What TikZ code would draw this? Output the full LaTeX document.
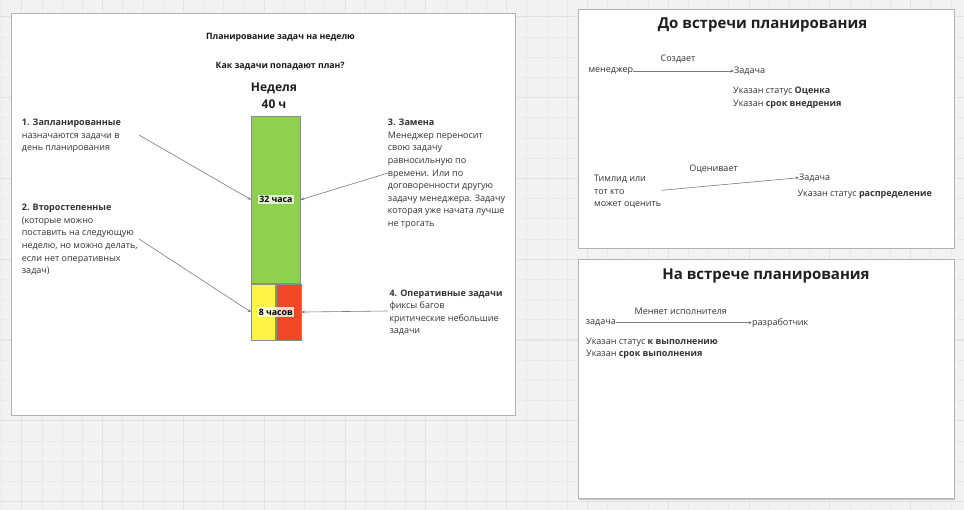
\documentclass[tikz,border=0pt]{standalone}
\usepackage{fontspec}
\setmainfont{Open Sans}
\usepackage{xcolor}
\usetikzlibrary{arrows.meta}

\definecolor{ink}{HTML}{333333}
\definecolor{wire}{HTML}{7A7A7A}
\definecolor{board}{HTML}{F2F2F2}
\definecolor{gridminor}{HTML}{E9E9E9}
\definecolor{gridmajor}{HTML}{E2E2E2}
\definecolor{barGreen}{HTML}{8FD14F}
\definecolor{barYellow}{HTML}{FEF445}
\definecolor{barRed}{HTML}{F24726}

\tikzset{
    panel/.style={draw=black!30, fill=white, line width=0.6pt},
    shade/.style={fill=black!22},
    txt/.style={font=\fontsize{9}{12.6}\selectfont, text=ink, inner sep=0pt, align=left, anchor=north west},
    head/.style={font=\bfseries\fontsize{8.75}{12.6}\selectfont, text=black!90, inner sep=0pt},
    big/.style={font=\bfseries\fontsize{15}{18}\selectfont, text=black!88, inner sep=0pt},
    seg/.style={draw=black!45, line width=0.7pt, inner sep=0pt, anchor=north west},
    tag/.style={font=\bfseries\fontsize{8.75}{12.6}\selectfont, fill=white, fill opacity=0.75, text opacity=1, inner sep=1.5pt},
    link/.style={draw=wire, line width=0.6pt, -{Stealth[length=3.5pt,width=3pt]}}
}

\begin{document}
\begin{tikzpicture}[x=1pt,y=-1pt]
            \useasboundingbox (0,0) rectangle (964,510);
            \fill[board] (0,0) rectangle (964,510);
            \foreach \gx in {1.5,21.7,...,964} \draw[gridminor, line width=0.5pt] (\gx,0) -- (\gx,510);
            \foreach \gy in {16.7,36.9,...,510} \draw[gridminor, line width=0.5pt] (0,\gy) -- (964,\gy);
            \foreach \gx in {21.7,102.5,...,964} \draw[gridmajor, line width=0.8pt] (\gx,0) -- (\gx,510);
            \foreach \gy in {16.7,97.5,...,510} \draw[gridmajor, line width=0.8pt] (0,\gy) -- (964,\gy);

            \fill[shade] (12.7,14.3) rectangle (516,416.2);
            \draw[panel] (11.7,13.3) rectangle (515,415);

            \node[head] (T1) at (280.5,37.3) {Планирование задач на неделю};
            \node[head] (T2) at (280.2,66) {Как задачи попадают план?};
            \node[font=\bfseries\fontsize{12}{16.7}\selectfont, text=black!88, inner sep=0pt, align=center] (W) at (274,95.6) {Неделя\\40 ч};

            \node[seg, fill=barGreen, minimum width=49, minimum height=167.3] (G) at (251,115.7) {};
            \node[seg, fill=barYellow, minimum width=24, minimum height=56] (Y) at (G.south west) {};
            \node[seg, fill=barRed, minimum width=25, minimum height=56] (R) at (Y.north east) {};
            \node[tag] (L32) at (G.center) {32 часа};
            \node[tag] (L8) at (Y.east) {8 часов};

            \node[txt] (B1) at (21.7,119) {\textbf{1. Запланированные}\\назначаются задачи в\\день планирования};
            \node[txt] (B2) at (21.7,204) {\textbf{2. Второстепенные}\\(которые можно\\поставить на следующую\\неделю, но можно делать,\\если нет оперативных\\задач)};
            \node[txt] (B3) at (387.7,119) {\textbf{3. Замена}\\Менеджер переносит\\свою задачу\\равносильную по\\времени. Или по\\договоренности другую\\задачу менеджера. Задачу\\которая уже начата лучше\\не трогать};
            \node[txt] (B4) at (389.3,289.4) {\textbf{4. Оперативные задачи}\\фиксы багов\\критические небольшие\\задачи};

            \coordinate (S1) at (139,135);
            \coordinate (S2) at (139,239);
            \coordinate (S3) at (388,173);
            \coordinate (S4) at (387.5,311);
            \draw[link] (S1) -- (G.west |- L32);
            \draw[link] (S2) -- (Y.west |- L8);
            \draw[link] (S3) -- (G.east |- L32);
            \draw[link] (S4) -- (R.east |- L8);

            \fill[shade] (579.3,10) rectangle (955,249.5);
            \draw[panel] (578.3,9) rectangle (954,248.3);
            \node[big] (D) at (762.5,25) {До встречи планирования};

            \node[txt, anchor=center] (C1) at (678,59.3) {Создает};
            \node[txt, anchor=east] (M) at (633.3,71) {менеджер};
            \node[txt, anchor=west] (Z1) at (734,71) {Задача};
            \draw[link] (M) -- (Z1);
            \node[txt] (I1) at (733,86.7) {Указан статус \textbf{Оценка}\\Указан \textbf{срок внедрения}};

            \node[txt, anchor=center] (C2) at (713.5,169) {Оценивает};
            \node[txt] (TL) at (594,175) {Тимлид или\\тот кто\\может оценить};
            \node[txt, anchor=west] (Z2) at (799,177.7) {Задача};
            \coordinate (S5) at (661.7,190.3);
            \draw[link] (S5) -- (Z2.west);
            \node[txt, anchor=base west] (I2) at (797.3,196.3) {Указан статус \textbf{распределение}};

            \fill[shade] (579.3,260) rectangle (955,499.5);
            \draw[panel] (578.3,259) rectangle (954,498.3);
            \node[big] (N) at (766,275.7) {На встрече планирования};

            \node[txt, anchor=center] (C3) at (680.8,311) {Меняет исполнителя};
            \node[txt, anchor=east] (Z3) at (616,322.7) {задача};
            \node[txt, anchor=west] (Dev) at (752,322.7) {разработчик};
            \draw[link] (Z3) -- (Dev);
            \node[txt] (I3) at (586,337.4) {Указан статус \textbf{к выполнению}\\Указан \textbf{срок выполнения}};
\end{tikzpicture}
\end{document}
